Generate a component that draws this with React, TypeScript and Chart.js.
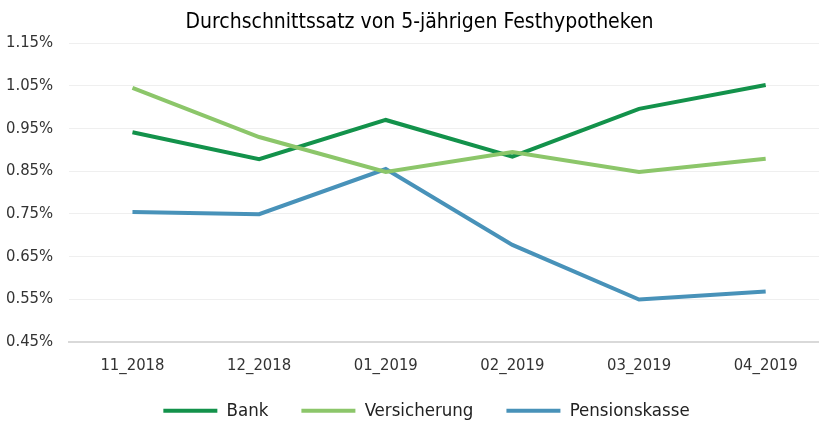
import React, { useEffect, useRef } from "react";
import { Chart, registerables } from "chart.js";

Chart.register(...registerables);

const categories = ["11_2018", "12_2018", "01_2019", "02_2019", "03_2019", "04_2019"];
const bank = [0.941, 0.878, 0.970, 0.884, 0.996, 1.052];
const versicherung = [1.045, 0.930, 0.848, 0.895, 0.848, 0.879];
const pensionskasse = [0.754, 0.749, 0.855, 0.677, 0.549, 0.568];
const yTicks = [0.45, 0.55, 0.65, 0.75, 0.85, 0.95, 1.05, 1.15];
const title = "Durchschnittssatz von 5-jährigen Festhypotheken";

const FONT = "'Liberation Sans Narrow', 'DejaVu Sans Condensed', 'Open Sans', sans-serif";

const shiftPlugin = {
  id: "shiftBoxes",
  afterLayout(chart: any) {
    const l = chart.legend;
    if (l) {
      l.top -= 21;
      l.bottom -= 21;
      l.left += 17;
      l.right += 17;
    }
    const t = chart.titleBlock;
    if (t) {
      t.left += 10;
      t.right += 10;
    }
  },
};

export default function App() {
  const ref = useRef<HTMLCanvasElement | null>(null);
  useEffect(() => {
    document.body.style.margin = "0";
    const ctx = ref.current!;
    const mk = (label: string, data: number[], color: string, order: number) => ({
      label,
      data,
      order,
      borderColor: color,
      backgroundColor: color,
      borderWidth: 4,
      pointRadius: 0,
      pointStyle: "line" as const,
      tension: 0,
    });
    const chart = new Chart(ctx, {
      type: "line",
      data: {
        labels: categories,
        datasets: [
          mk("Bank", bank, "#13924b", 2),
          mk("Versicherung", versicherung, "#8cc66a", 0),
          mk("Pensionskasse", pensionskasse, "#4892b9", 1),
        ],
      },
      plugins: [shiftPlugin],
      options: {
        animation: false,
        responsive: false,
        layout: { padding: { left: -10, right: 9, top: 4, bottom: -29 } },
        plugins: {
          title: {
            display: true,
            text: title,
            color: "#000",
            font: { family: FONT, size: 21, weight: "normal" },
            padding: { top: 6, bottom: 8 },
          },
          legend: {
            position: "bottom",
            labels: {
              usePointStyle: true,
              pointStyleWidth: 54,
              color: "#222",
              padding: 33,
              font: { family: FONT, size: 18.5 },
              sort: (a: any, b: any) => a.datasetIndex - b.datasetIndex,
            },
          },
          tooltip: { enabled: false },
        },
        scales: {
          x: {
            offset: true,
            grid: { display: false, drawTicks: false },
            border: { display: true, color: "#d9d9d9", width: 2 },
            ticks: { color: "#333", font: { family: FONT, size: 16.5 }, padding: 14 },
          },
          y: {
            min: 0.45,
            max: 1.15,
            afterBuildTicks: (axis: any) => {
              axis.ticks = yTicks.map((v) => ({ value: v }));
            },
            grid: { color: "#efefef", lineWidth: 1, drawTicks: false },
            border: { display: false },
            ticks: {
              color: "#333",
              padding: 16,
              font: { family: FONT, size: 16.5 },
              callback: (v: any) => Number(v).toFixed(2) + "%",
            },
          },
        },
      },
    });
    return () => chart.destroy();
  }, []);
  return (
    <div style={{ width: 819, height: 422, overflow: "hidden" }}>
      <canvas ref={ref} width={838} height={422} style={{ display: "block" }} />
    </div>
  );
}
